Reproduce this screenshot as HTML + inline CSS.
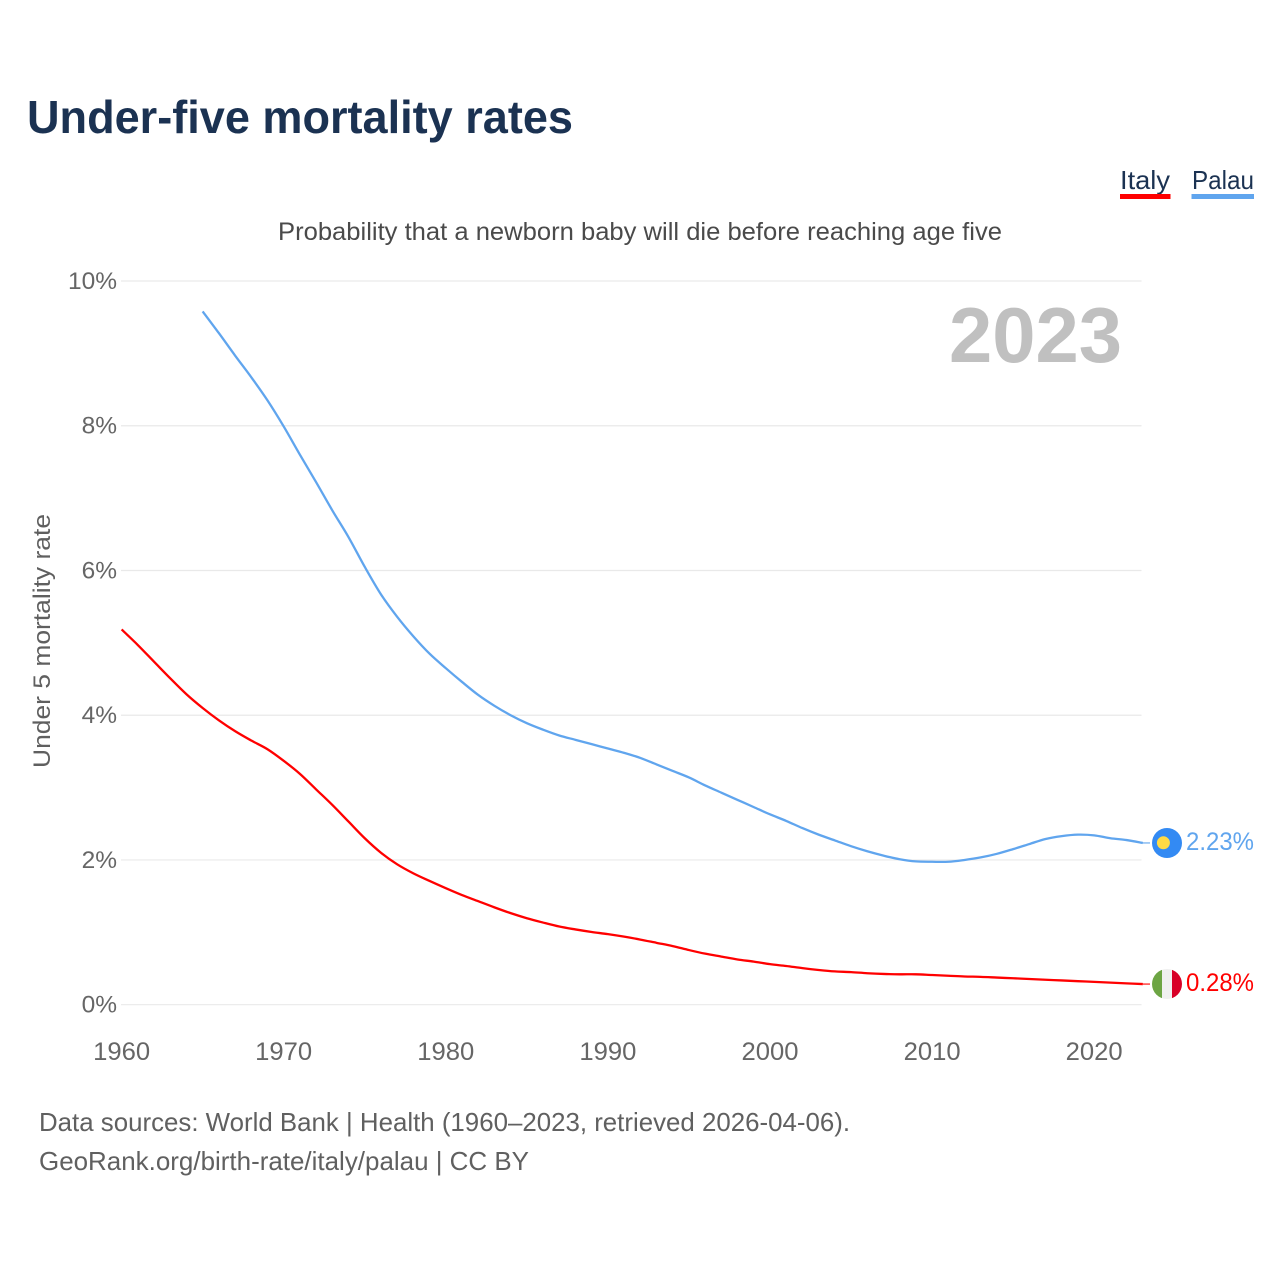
<!DOCTYPE html>
<html lang="en">
<head>
<meta charset="utf-8">
<title>Under-five mortality rates</title>
<style>
  html, body { margin: 0; padding: 0; background: #fff; }
  svg { display: block; }
  text { font-family: "Liberation Sans", sans-serif; }
</style>
</head>
<body>
<svg id="chart" xmlns="http://www.w3.org/2000/svg" width="1280" height="1280" viewBox="0 0 1280 1280">
  <rect x="0" y="0" width="1280" height="1280" fill="#ffffff"/>
  <text x="27" y="133" font-size="46" font-weight="700" fill="#1b3252" textLength="546" lengthAdjust="spacingAndGlyphs">Under-five mortality rates</text>
  <text x="278" y="240" font-size="25" fill="#4a4a4a" textLength="724" lengthAdjust="spacingAndGlyphs">Probability that a newborn baby will die before reaching age five</text>

  <g>
    <text x="1120" y="189" font-size="26" fill="#1b3252" textLength="50" lengthAdjust="spacingAndGlyphs">Italy</text>
    <rect x="1120" y="194" width="50.5" height="5" fill="#ff0000"/>
  </g>
  <g>
    <text x="1192" y="189" font-size="26" fill="#1b3252" textLength="62" lengthAdjust="spacingAndGlyphs">Palau</text>
    <rect x="1191.5" y="194" width="62.5" height="5" fill="#60a5ee"/>
  </g>

  <g id="grid"></g>
  <g id="yticks"></g>
  <g id="xticks"></g>

  <text transform="translate(50,641) rotate(-90)" text-anchor="middle" font-size="24" fill="#5f5f5f" textLength="254" lengthAdjust="spacingAndGlyphs">Under 5 mortality rate</text>
  <text x="949" y="362" font-size="78" font-weight="700" fill="#c0c0c0" textLength="173" lengthAdjust="spacingAndGlyphs">2023</text>

  <g id="series"></g>

  <g>
    <circle cx="1167" cy="843" r="15" fill="#338af3"/>
    <circle cx="1163.4" cy="842.8" r="6.5" fill="#ffda44"/>
  </g>
  <g>
    <clipPath id="italy-clip"><circle cx="1167" cy="984" r="15"/></clipPath>
    <g clip-path="url(#italy-clip)">
      <rect x="1152" y="969" width="10" height="30" fill="#6da544"/>
      <rect x="1162" y="969" width="10" height="30" fill="#f0f0f0"/>
      <rect x="1172" y="969" width="10" height="30" fill="#d80027"/>
    </g>
  </g>

  <text x="1186" y="850" font-size="25" fill="#60a5ee" textLength="68" lengthAdjust="spacingAndGlyphs">2.23%</text>
  <text x="1186" y="991" font-size="25" fill="#ff0000" textLength="68" lengthAdjust="spacingAndGlyphs">0.28%</text>

  <text x="39" y="1131" font-size="26" fill="#606060" textLength="811" lengthAdjust="spacingAndGlyphs">Data sources: World Bank | Health (1960–2023, retrieved 2026-04-06).</text>
  <text x="39" y="1170" font-size="26" fill="#606060" textLength="490" lengthAdjust="spacingAndGlyphs">GeoRank.org/birth-rate/italy/palau | CC BY</text>
</svg>
<script>
const years = [1960,1961,1962,1963,1964,1965,1966,1967,1968,1969,1970,1971,1972,1973,1974,1975,1976,1977,1978,1979,1980,1981,1982,1983,1984,1985,1986,1987,1988,1989,1990,1991,1992,1993,1994,1995,1996,1997,1998,1999,2000,2001,2002,2003,2004,2005,2006,2007,2008,2009,2010,2011,2012,2013,2014,2015,2016,2017,2018,2019,2020,2021,2022,2023];
const italyValues = [5.185,4.97,4.74,4.51,4.29,4.10,3.93,3.78,3.65,3.53,3.37,3.19,2.975,2.76,2.53,2.30,2.10,1.94,1.815,1.71,1.61,1.515,1.43,1.345,1.265,1.195,1.135,1.08,1.04,1.005,0.975,0.94,0.90,0.855,0.81,0.755,0.705,0.665,0.625,0.595,0.56,0.535,0.505,0.48,0.46,0.45,0.435,0.425,0.42,0.42,0.41,0.40,0.39,0.385,0.375,0.365,0.355,0.345,0.335,0.325,0.315,0.305,0.295,0.285];
const palauValues = [null,null,null,null,null,9.58,9.28,8.97,8.67,8.35,7.99,7.60,7.22,6.83,6.46,6.05,5.67,5.36,5.09,4.85,4.65,4.46,4.28,4.13,4.00,3.89,3.80,3.72,3.66,3.60,3.54,3.48,3.41,3.32,3.23,3.14,3.03,2.93,2.83,2.73,2.63,2.54,2.44,2.35,2.27,2.19,2.12,2.06,2.01,1.98,1.975,1.975,2.00,2.035,2.085,2.15,2.22,2.29,2.33,2.35,2.34,2.30,2.275,2.235];
const yTickValues = [0,2,4,6,8,10];
const xTickValues = [1960,1970,1980,1990,2000,2010,2020];

const NS = 'http://www.w3.org/2000/svg';
const xScale = function (year) { return 121.6 + (year - 1960) * 16.21; };
const yScale = function (pct) { return 1004.7 - pct * 72.37; };

function make(tag, parent) {
  const el = document.createElementNS(NS, tag);
  parent.appendChild(el);
  return el;
}

const grid = document.getElementById('grid');
const yticks = document.getElementById('yticks');
const xticks = document.getElementById('xticks');
const seriesGroup = document.getElementById('series');

yTickValues.forEach(function (v) {
  const line = make('line', grid);
  
  
  line.setAttribute('x1', 121);
  line.setAttribute('x2', 1141.5);
  line.setAttribute('y1', yScale(v));
  line.setAttribute('y2', yScale(v));
  line.setAttribute('stroke', '#e9e9e9');
  line.setAttribute('stroke-width', 1.2);

  const label = make('text', yticks);
  
  
  label.setAttribute('x', 117);
  label.setAttribute('y', yScale(v) + 8);
  label.setAttribute('text-anchor', 'end');
  label.setAttribute('font-size', 24.5);
  label.setAttribute('fill', '#666666');
  label.textContent = v + '%';
});

xTickValues.forEach(function (yr) {
  const label = make('text', xticks);
  
  
  label.setAttribute('x', xScale(yr));
  label.setAttribute('y', 1060);
  label.setAttribute('text-anchor', 'middle');
  label.setAttribute('font-size', 25);
  label.setAttribute('fill', '#666666');
  label.setAttribute('textLength', 57);
  label.setAttribute('lengthAdjust', 'spacingAndGlyphs');
  label.textContent = yr;
});

// Smooth curve through every yearly value (Catmull-Rom to cubic Bezier).
function linePath(values) {
  const pts = [];
  values.forEach(function (v, i) {
    if (v !== null) pts.push([xScale(years[i]), yScale(v)]);
  });
  let d = 'M' + pts[0][0].toFixed(2) + ' ' + pts[0][1].toFixed(2);
  for (let i = 0; i < pts.length - 1; i++) {
    const p0 = pts[Math.max(i - 1, 0)];
    const p1 = pts[i];
    const p2 = pts[i + 1];
    const p3 = pts[Math.min(i + 2, pts.length - 1)];
    const c1x = p1[0] + (p2[0] - p0[0]) / 6;
    const c1y = p1[1] + (p2[1] - p0[1]) / 6;
    const c2x = p2[0] - (p3[0] - p1[0]) / 6;
    const c2y = p2[1] - (p3[1] - p1[1]) / 6;
    d += 'C' + c1x.toFixed(2) + ' ' + c1y.toFixed(2) + ' ' + c2x.toFixed(2) + ' ' + c2y.toFixed(2) + ' ' + p2[0].toFixed(2) + ' ' + p2[1].toFixed(2);
  }
  return d;
}

function lastValue(values) {
  return values[values.length - 1];
}

function leader(values, color) {
  const el = make('line', seriesGroup);
  
  el.setAttribute('x1', xScale(years[years.length - 1]));
  el.setAttribute('x2', 1150);
  el.setAttribute('y1', yScale(lastValue(values)));
  el.setAttribute('y2', yScale(lastValue(values)));
  el.setAttribute('stroke', color);
  el.setAttribute('stroke-width', 1.4);
  el.setAttribute('stroke-opacity', 0.8);
  return el;
}

const italyLine = make('path', seriesGroup);


italyLine.setAttribute('d', linePath(italyValues));
italyLine.setAttribute('fill', 'none');
italyLine.setAttribute('stroke', '#ff0000');
italyLine.setAttribute('stroke-width', 2.3);
italyLine.setAttribute('stroke-linejoin', 'round');

const palauLine = make('path', seriesGroup);


palauLine.setAttribute('d', linePath(palauValues));
palauLine.setAttribute('fill', 'none');
palauLine.setAttribute('stroke', '#60a5ee');
palauLine.setAttribute('stroke-width', 2.3);
palauLine.setAttribute('stroke-linejoin', 'round');

const italyLeader = leader(italyValues, '#ff0000');

const palauLeader = leader(palauValues, '#60a5ee');

</script>
</body>
</html>
